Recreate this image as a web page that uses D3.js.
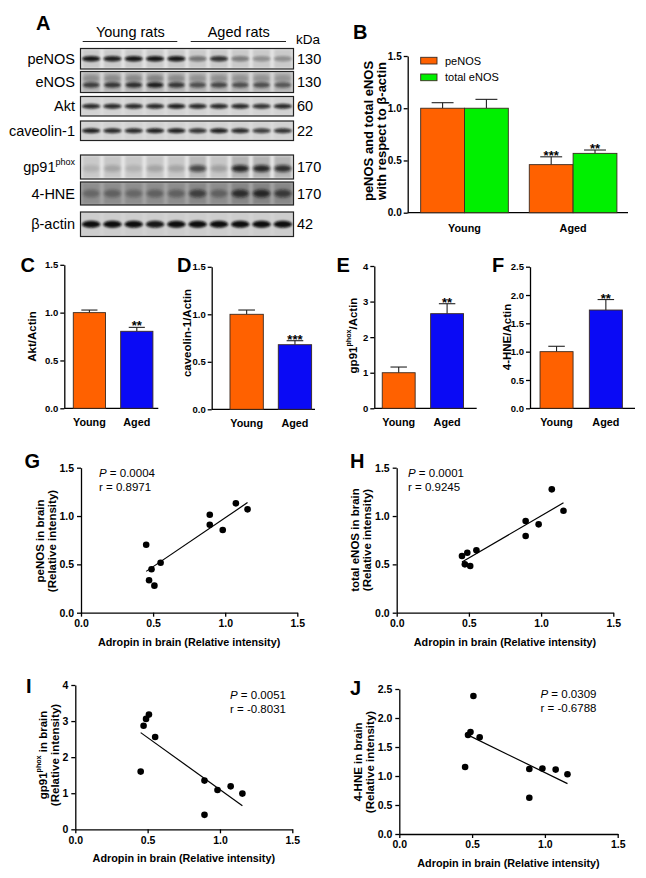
<!DOCTYPE html>
<html><head><meta charset="utf-8">
<script src="https://cdn.jsdelivr.net/npm/d3@7"></script>
<style>body{margin:0;background:#fff}svg{display:block}</style>
</head><body>
<svg id="chart" width="646" height="878"></svg>
<script>
// ---------------- DATA ----------------
const groups = ["Young", "Aged"];
const blotNames = ["peNOS", "eNOS", "Akt", "caveolin-1", "gp91", "4-HNE", "β-actin"];
const blotKDa = ["130", "130", "60", "22", "170", "170", "42"];
const peNOSBands = [0.95, 0.9, 0.95, 0.95, 0.95, 0.45, 0.8, 0.4, 0.3, 0.3];
const eNOSBands = [0.7, 0.75, 0.8, 0.9, 0.75, 0.6, 0.65, 0.6, 0.6, 0.55];
const aktBands = [0.85, 0.85, 0.85, 0.85, 0.9, 0.85, 0.85, 0.85, 0.8, 0.85];
const cavBands = [0.9, 0.85, 0.85, 0.9, 0.9, 0.8, 0.9, 0.85, 0.75, 0.8];
const gp91Bands = [0.12, 0.18, 0.12, 0.18, 0.18, 0.65, 0.2, 0.85, 0.85, 0.8];
const hneBands = [0.3, 0.35, 0.3, 0.35, 0.35, 0.6, 0.35, 0.75, 0.8, 0.65];
const actinBands = [1, 1, 1, 0.95, 1, 1, 1, 1, 1, 1];
const lanes = [1, 2, 3, 4, 5, 6, 7, 8, 9, 10];

const seriesB = ["peNOS", "total eNOS"];
const peNOSMean = [1.0, 0.46];
const peNOSSem = [0.053, 0.075];
const eNOSMean = [1.0, 0.568];
const eNOSSem = [0.085, 0.032];
const starsB = [["", "***"], ["", "**"]];

const aktMean = [1.0, 0.805], aktSem = [0.027, 0.041];
const cavMean = [1.0, 0.68], cavSem = [0.045, 0.042];
const gpMean = [1.0, 2.66], gpSem = [0.16, 0.28];
const hneMean = [1.0, 1.735], hneSem = [0.095, 0.185];

const adropin = [0.452, 0.472, 0.489, 0.509, 0.552, 0.893, 0.893, 0.983, 1.074, 1.155];
const peNOSBrain = [0.703, 0.335, 0.45, 0.28, 0.517, 1.013, 0.91, 0.855, 1.131, 1.069];
const eNOSBrain = [0.586, 0.50, 0.62, 0.483, 0.645, 0.948, 0.793, 0.914, 1.276, 1.055];
const gp91Brain = [1.6, 2.87, 3.06, 3.18, 2.56, 1.35, 0.40, 1.09, 1.19, 0.99];
const hneBrain = [1.155, 1.707, 1.759, 2.379, 1.667, 1.121, 0.626, 1.13, 1.11, 1.03];

const ticks15 = [0, 0.5, 1.0, 1.5];
const ticks4 = [0, 1, 2, 3, 4];
const ticks25 = [0, 0.5, 1.0, 1.5, 2.0, 2.5];

// ---------------- SETUP ----------------
const FONT = '"Liberation Sans", Arial, Helvetica, sans-serif';
const ORANGE = "#ff6100", GREEN = "#00f000", BLUE = "#0a0af5";
const svg = d3.select("#chart").attr("font-family", FONT);
const defs = svg.append("defs");
[["b1", 1.0], ["b2", 1.8], ["b3", 0.8]].forEach(([id, s]) => {
  defs.append("filter").attr("id", id).attr("x", "-50%").attr("y", "-100%")
    .attr("width", "200%").attr("height", "300%")
    .append("feGaussianBlur").attr("stdDeviation", s);
});

function letter(t, x, y) {
  svg.append("text").attr("x", x).attr("y", y).attr("font-size", 20)
    .attr("font-weight", "bold").text(t);
}
function styleAxis(g, fs) {
  g.attr("font-family", FONT);
  g.select("path.domain").attr("stroke", "#000").attr("stroke-width", 1.3);
  g.selectAll(".tick line").attr("stroke", "#000").attr("stroke-width", 1.3);
  g.selectAll(".tick text").attr("font-size", fs || 10).attr("font-weight", "bold").attr("fill", "#000");
}
function rotLabel(parts, x, y, fs) {
  const t = svg.append("text").attr("transform", `translate(${x},${y}) rotate(-90)`)
    .attr("text-anchor", "middle").attr("dominant-baseline", "central")
    .attr("font-size", fs).attr("font-weight", "bold");
  parts.forEach(p => {
    const ts = t.append("tspan").text(p.t);
    if (p.sup) ts.attr("font-size", fs * 0.62).attr("dy", -fs * 0.38);
    if (p.after) ts.attr("dy", fs * 0.38);
  });
}

// ---------------- PANEL A (blot) ----------------
letter("A", 36, 30);
const blotLayout = [
  {top: 48.5, h: 20.5, bg: "#e2e2e2", lane: 0.10, kind: "sharp", ry: 2.8},
  {top: 71.5, h: 21, bg: "#d4d4d4", lane: 0.16, kind: "double", ry: 2.8},
  {top: 96.5, h: 19.5, bg: "#dadada", lane: 0.03, kind: "sharp", ry: 2.4},
  {top: 121, h: 19.5, bg: "#dadada", lane: 0.03, kind: "sharp", ry: 2.6},
  {top: 155, h: 24, bg: "#e4e4e4", lane: 0.10, kind: "diffuse", ry: 3.5},
  {top: 182, h: 23, bg: "#a2a2a2", lane: 0.08, kind: "diffuse", ry: 4},
  {top: 212, h: 24.5, bg: "#d2d2d2", lane: 0.02, kind: "sharp", ry: 3.6}
];
const blotBands = [peNOSBands, eNOSBands, aktBands, cavBands, gp91Bands, hneBands, actinBands];
const laneX = d3.scaleBand().domain(lanes).range([80.5, 293.5]).paddingInner(0.2).paddingOuter(0.1);

const blot = svg.append("g");
blotLayout.forEach((L, r) => {
  const cy = L.top + L.h / 2;
  blot.append("rect").attr("x", 80.5).attr("y", L.top).attr("width", 213).attr("height", L.h).attr("fill", L.bg);
  const gg = blot.append("g");
  lanes.forEach((ln, i) => {
    const x = laneX(ln), w = laneX.bandwidth();
    gg.append("rect").attr("x", x).attr("y", L.top + 1).attr("width", w).attr("height", L.h - 2)
      .attr("fill", "#000").attr("opacity", L.lane + (L.kind === "diffuse" ? blotBands[r][i] * 0.12 : 0))
      .attr("filter", "url(#b3)");
    const v = blotBands[r][i];
    if (L.kind === "double") {
      gg.append("ellipse").attr("cx", x + w / 2).attr("cy", cy - 3.5).attr("rx", w * 0.5).attr("ry", 3.5)
        .attr("fill", "#222").attr("opacity", v * 0.35).attr("filter", "url(#b2)");
      gg.append("ellipse").attr("cx", x + w / 2).attr("cy", cy + 3).attr("rx", w * 0.5).attr("ry", L.ry)
        .attr("fill", "#111").attr("opacity", v).attr("filter", "url(#b1)");
    } else if (L.kind === "diffuse") {
      gg.append("ellipse").attr("cx", x + w / 2).attr("cy", cy + (r === 4 ? 1.5 : 0)).attr("rx", w * 0.52).attr("ry", L.ry)
        .attr("fill", "#111").attr("opacity", v).attr("filter", "url(#b2)");
    } else {
      gg.append("ellipse").attr("cx", x + w / 2).attr("cy", cy).attr("rx", w * 0.54).attr("ry", L.ry)
        .attr("fill", "#0a0a0a").attr("opacity", v).attr("filter", "url(#b1)");
    }
  });
  blot.append("rect").attr("x", 80.5).attr("y", L.top).attr("width", 213).attr("height", L.h)
    .attr("fill", "none").attr("stroke", "#222").attr("stroke-width", 1.2);
  // labels
  const lt = svg.append("text").attr("x", 75).attr("y", cy).attr("text-anchor", "end")
    .attr("dominant-baseline", "central").attr("font-size", 14.5);
  if (blotNames[r] === "gp91") {
    lt.append("tspan").text("gp91");
    lt.append("tspan").text("phox").attr("font-size", 9).attr("dy", -5);
  } else lt.text(blotNames[r]);
  svg.append("text").attr("x", 297).attr("y", cy).attr("dominant-baseline", "central")
    .attr("font-size", 14.5).text(blotKDa[r]);
});
svg.append("text").attr("x", 296).attr("y", 39.5).attr("dominant-baseline", "central").attr("font-size", 13.5).text("kDa");
[["Young rats", 130.3, 82.7, 177.3], ["Aged rats", 238.7, 190.7, 286]].forEach(([t, cx, a, b]) => {
  svg.append("text").attr("x", cx).attr("y", 31.5).attr("text-anchor", "middle")
    .attr("dominant-baseline", "central").attr("font-size", 14.5).text(t);
  svg.append("line").attr("x1", a).attr("x2", b).attr("y1", 41.5).attr("y2", 41.5)
    .attr("stroke", "#222").attr("stroke-width", 1.2);
});

// ---------------- BAR PANELS ----------------
function drawBars(o) {
  const y = d3.scaleLinear().domain([0, o.max]).range(o.yRange);
  const x = d3.scaleBand().domain(groups).range(o.xr).paddingInner(o.pad).paddingOuter(o.pad / 2);
  const g = svg.append("g");
  const ax = g.append("g").attr("transform", `translate(${o.axisX},0)`)
    .call(d3.axisLeft(y).tickValues(o.ticks).tickFormat(o.fmt).tickSize(4).tickSizeOuter(0).tickPadding(2));
  styleAxis(ax, o.tfs || 9.5);
  g.append("line").attr("x1", o.axisX).attr("x2", o.xEnd).attr("y1", y(0)).attr("y2", y(0))
    .attr("stroke", "#000").attr("stroke-width", 1.3);
  const series = o.series;
  const inner = d3.scaleBand().domain(series.map(s => s.name)).range([0, x.bandwidth()]);
  series.forEach(s => {
    groups.forEach((grp, i) => {
      const bx = x(grp) + inner(s.name), bw = inner.bandwidth();
      const cx = bx + bw / 2, v = s.mean[i], e = v + s.sem[i];
      const col = s.colors ? s.colors[i] : s.color;
      g.append("line").attr("x1", cx).attr("x2", cx).attr("y1", y(v)).attr("y2", y(e)).attr("stroke", "#222").attr("stroke-width", 1.1);
      g.append("line").attr("x1", cx - bw / 4).attr("x2", cx + bw / 4).attr("y1", y(e)).attr("y2", y(e)).attr("stroke", "#222").attr("stroke-width", 1.1);
      g.append("rect").attr("x", bx).attr("y", y(v)).attr("width", bw).attr("height", y(0) - y(v))
        .attr("fill", col).attr("stroke", "#3a2a20").attr("stroke-width", 0.9);
      if (s.stars[i]) {
        g.append("text").attr("x", cx).attr("y", y(e) + 3).attr("text-anchor", "middle")
          .attr("font-size", 13).attr("font-weight", "bold").text(s.stars[i]);
      }
    });
  });
  groups.forEach(grp => {
    g.append("text").attr("x", x(grp) + x.bandwidth() / 2).attr("y", y(0) + o.catDy)
      .attr("text-anchor", "middle").attr("dominant-baseline", "central")
      .attr("font-size", 10.8).attr("font-weight", "bold").text(grp);
  });
  return {x, y};
}
const f1 = d3.format(".1f"), f0 = d3.format("d");

// B
letter("B", 353, 39);
drawBars({max: 1.5, yRange: [212.7, 56], xr: [410.2, 627.4], pad: 0.193, axisX: 407.7, xEnd: 628,
  ticks: ticks15, fmt: f1, catDy: 15.5, tfs: 10,
  series: [
    {name: seriesB[0], mean: peNOSMean, sem: peNOSSem, color: ORANGE, stars: starsB[0]},
    {name: seriesB[1], mean: eNOSMean, sem: eNOSSem, color: GREEN, stars: starsB[1]}
  ]});
rotLabel([{t: "peNOS and total eNOS"}], 367.5, 131, 13);
rotLabel([{t: "with respect to β-actin"}], 381, 131, 13);
[[seriesB[0], ORANGE, 57.3], [seriesB[1], GREEN, 74]].forEach(([t, c, yy]) => {
  svg.append("rect").attr("x", 420.7).attr("y", yy).attr("width", 16.3).attr("height", 6.7)
    .attr("fill", c).attr("stroke", "#3a2a20").attr("stroke-width", 0.9);
  svg.append("text").attr("x", 445).attr("y", yy + 3.4).attr("dominant-baseline", "central")
    .attr("font-size", 11).text(t);
});

// C
letter("C", 20.5, 272);
drawBars({max: 1.5, yRange: [408.3, 264.8], xr: [65.7, 160.5], pad: 0.32, axisX: 64.3, xEnd: 158.3,
  ticks: ticks15, fmt: f1, catDy: 13.5,
  series: [{name: "v", mean: aktMean, sem: aktSem, colors: [ORANGE, BLUE], stars: ["", "**"]}]});
rotLabel([{t: "Akt/Actin"}], 32, 336.5, 11.5);

// D
letter("D", 177, 272);
drawBars({max: 1.5, yRange: [409.3, 266.8], xr: [222.5, 319.1], pad: 0.31, axisX: 211.7, xEnd: 315,
  ticks: ticks15, fmt: f1, catDy: 13.5,
  series: [{name: "v", mean: cavMean, sem: cavSem, colors: [ORANGE, BLUE], stars: ["", "***"]}]});
rotLabel([{t: "caveolin-1/Actin"}], 187, 333, 11.5);

// E
letter("E", 336.5, 272);
drawBars({max: 4, yRange: [408.3, 266], xr: [374.5, 471.3], pad: 0.32, axisX: 374.3, xEnd: 476.7,
  ticks: ticks4, fmt: f0, catDy: 13.5,
  series: [{name: "v", mean: gpMean, sem: gpSem, colors: [ORANGE, BLUE], stars: ["", "**"]}]});
rotLabel([{t: "gp91"}, {t: "phox", sup: true}, {t: "/Actin", after: true}], 353, 335.5, 11.5);

// F
letter("F", 492, 272);
drawBars({max: 2.5, yRange: [408.3, 266.7], xr: [531.9, 630.5], pad: 0.33, axisX: 530, xEnd: 635,
  ticks: ticks25, fmt: f1, catDy: 13.5,
  series: [{name: "v", mean: hneMean, sem: hneSem, colors: [ORANGE, BLUE], stars: ["", "**"]}]});
rotLabel([{t: "4-HNE/Actin"}], 507, 337, 11.5);

// ---------------- SCATTER PANELS ----------------
function scatter(o) {
  const x = d3.scaleLinear().domain([0, 1.5]).range(o.xr);
  const y = d3.scaleLinear().domain([0, o.max]).range(o.yr);
  const g = svg.append("g");
  const ax = g.append("g").attr("transform", `translate(0,${o.yr[0]})`)
    .call(d3.axisBottom(x).tickValues(ticks15).tickFormat(f1).tickSize(4).tickSizeOuter(0).tickPadding(3));
  styleAxis(ax, 10.5);
  const ay = g.append("g").attr("transform", `translate(${o.xr[0]},0)`)
    .call(d3.axisLeft(y).tickValues(o.ticks).tickFormat(o.fmt).tickSize(4).tickSizeOuter(0).tickPadding(3));
  styleAxis(ay, 10.5);
  // regression (least squares)
  const xs = adropin, ys = o.ys;
  const mx = d3.mean(xs), my = d3.mean(ys);
  const sxy = d3.sum(xs, (v, i) => (v - mx) * (ys[i] - my));
  const sxx = d3.sum(xs, v => (v - mx) * (v - mx));
  const k = sxy / sxx, c = my - k * mx;
  const [lo, hi] = d3.extent(xs);
  g.append("line").attr("x1", x(lo)).attr("x2", x(hi)).attr("y1", y(k * lo + c)).attr("y2", y(k * hi + c))
    .attr("stroke", "#000").attr("stroke-width", 1.2);
  g.selectAll("circle.pt").data(xs).enter().append("circle")
    .attr("cx", d => x(d)).attr("cy", (d, i) => y(ys[i])).attr("r", 3.3).attr("fill", "#000");
  const t1 = svg.append("text").attr("x", o.tx).attr("y", o.ty).attr("font-size", 11.5);
  t1.append("tspan").attr("font-style", "italic").text("P");
  t1.append("tspan").text(" = " + o.p);
  svg.append("text").attr("x", o.tx).attr("y", o.ty + 14).attr("font-size", 11.5).text("r = " + o.r);
  svg.append("text").attr("x", (o.xr[0] + o.xr[1]) / 2).attr("y", o.yr[0] + 29).attr("text-anchor", "middle")
    .attr("dominant-baseline", "central").attr("font-size", 10.8).attr("font-weight", "bold")
    .text("Adropin in brain (Relative intensity)");
  rotLabel(o.lab1, o.labX[0], o.labY, 11.5);
  rotLabel([{t: "(Relative intensity)"}], o.labX[1], o.labY, 11.5);
}

letter("G", 24.5, 467.5);
scatter({ys: peNOSBrain, xr: [81, 297.3], yr: [612.7, 467.7], max: 1.5, ticks: ticks15, fmt: f1,
  p: "0.0004", r: "0.8971", tx: 99, ty: 477, lab1: [{t: "peNOS in brain"}], labX: [40, 52], labY: 541});

letter("H", 350, 467.5);
scatter({ys: eNOSBrain, xr: [396.7, 613.3], yr: [612.7, 467.7], max: 1.5, ticks: ticks15, fmt: f1,
  p: "0.0001", r: "0.9245", tx: 408, ty: 477, lab1: [{t: "total eNOS in brain"}], labX: [355, 367], labY: 540});

letter("I", 26, 693);
scatter({ys: gp91Brain, xr: [75.3, 292.3], yr: [829.3, 685], max: 4, ticks: ticks4, fmt: f0,
  p: "0.0051", r: "-0.8031", tx: 230, ty: 699, lab1: [{t: "gp91"}, {t: "phox", sup: true}, {t: " in brain", after: true}], labX: [43, 55], labY: 755});

letter("J", 350, 695);
scatter({ys: hneBrain, xr: [399.3, 617.7], yr: [834, 689], max: 2.5, ticks: ticks25, fmt: f1,
  p: "0.0309", r: "-0.6788", tx: 540.5, ty: 697.5, lab1: [{t: "4-HNE in brain"}], labX: [357.5, 370], labY: 762});
</script>
</body></html>
